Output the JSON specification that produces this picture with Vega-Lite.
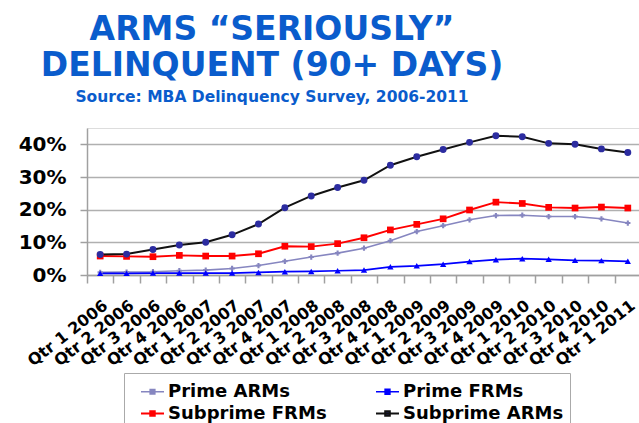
{
  "$schema": "https://vega.github.io/schema/vega-lite/v6.json",
  "width": 554,
  "height": 147,
  "autosize": {"type": "none"},
  "padding": {"left": 87, "top": 128, "right": 0, "bottom": 148},
  "background": "white",
  "title": {
    "text": ["ARMS “SERIOUSLY”", "DELINQUENT (90+ DAYS)"],
    "subtitle": "Source:  MBA Delinquency Survey, 2006-2011",
    "anchor": "middle",
    "frame": "group",
    "dx": -92,
    "font": "DejaVu Sans",
    "fontSize": 33,
    "fontWeight": "bold",
    "color": "#0a5ccc",
    "lineHeight": 36,
    "subtitleFont": "DejaVu Sans",
    "subtitleFontSize": 15.5,
    "subtitleFontWeight": "bold",
    "subtitleColor": "#0a5ccc",
    "subtitlePadding": 7,
    "offset": 23
  },
  "datasets": {
    "d": [
      {"q": "Qtr 1 2006", "s": "Prime ARMs", "v": 0.008}, {"q": "Qtr 2 2006", "s": "Prime ARMs", "v": 0.009}, {"q": "Qtr 3 2006", "s": "Prime ARMs", "v": 0.010}, {"q": "Qtr 4 2006", "s": "Prime ARMs", "v": 0.013}, {"q": "Qtr 1 2007", "s": "Prime ARMs", "v": 0.015}, {"q": "Qtr 2 2007", "s": "Prime ARMs", "v": 0.020}, {"q": "Qtr 3 2007", "s": "Prime ARMs", "v": 0.029}, {"q": "Qtr 4 2007", "s": "Prime ARMs", "v": 0.042}, {"q": "Qtr 1 2008", "s": "Prime ARMs", "v": 0.055}, {"q": "Qtr 2 2008", "s": "Prime ARMs", "v": 0.067}, {"q": "Qtr 3 2008", "s": "Prime ARMs", "v": 0.082}, {"q": "Qtr 4 2008", "s": "Prime ARMs", "v": 0.105}, {"q": "Qtr 1 2009", "s": "Prime ARMs", "v": 0.133}, {"q": "Qtr 2 2009", "s": "Prime ARMs", "v": 0.151}, {"q": "Qtr 3 2009", "s": "Prime ARMs", "v": 0.169}, {"q": "Qtr 4 2009", "s": "Prime ARMs", "v": 0.182}, {"q": "Qtr 1 2010", "s": "Prime ARMs", "v": 0.183}, {"q": "Qtr 2 2010", "s": "Prime ARMs", "v": 0.179}, {"q": "Qtr 3 2010", "s": "Prime ARMs", "v": 0.179}, {"q": "Qtr 4 2010", "s": "Prime ARMs", "v": 0.172}, {"q": "Qtr 1 2011", "s": "Prime ARMs", "v": 0.159},
      {"q": "Qtr 1 2006", "s": "Prime FRMs", "v": 0.005}, {"q": "Qtr 2 2006", "s": "Prime FRMs", "v": 0.005}, {"q": "Qtr 3 2006", "s": "Prime FRMs", "v": 0.006}, {"q": "Qtr 4 2006", "s": "Prime FRMs", "v": 0.006}, {"q": "Qtr 1 2007", "s": "Prime FRMs", "v": 0.006}, {"q": "Qtr 2 2007", "s": "Prime FRMs", "v": 0.006}, {"q": "Qtr 3 2007", "s": "Prime FRMs", "v": 0.008}, {"q": "Qtr 4 2007", "s": "Prime FRMs", "v": 0.010}, {"q": "Qtr 1 2008", "s": "Prime FRMs", "v": 0.011}, {"q": "Qtr 2 2008", "s": "Prime FRMs", "v": 0.013}, {"q": "Qtr 3 2008", "s": "Prime FRMs", "v": 0.015}, {"q": "Qtr 4 2008", "s": "Prime FRMs", "v": 0.025}, {"q": "Qtr 1 2009", "s": "Prime FRMs", "v": 0.028}, {"q": "Qtr 2 2009", "s": "Prime FRMs", "v": 0.033}, {"q": "Qtr 3 2009", "s": "Prime FRMs", "v": 0.041}, {"q": "Qtr 4 2009", "s": "Prime FRMs", "v": 0.047}, {"q": "Qtr 1 2010", "s": "Prime FRMs", "v": 0.050}, {"q": "Qtr 2 2010", "s": "Prime FRMs", "v": 0.048}, {"q": "Qtr 3 2010", "s": "Prime FRMs", "v": 0.045}, {"q": "Qtr 4 2010", "s": "Prime FRMs", "v": 0.044}, {"q": "Qtr 1 2011", "s": "Prime FRMs", "v": 0.042},
      {"q": "Qtr 1 2006", "s": "Subprime FRMs", "v": 0.058}, {"q": "Qtr 2 2006", "s": "Subprime FRMs", "v": 0.057}, {"q": "Qtr 3 2006", "s": "Subprime FRMs", "v": 0.056}, {"q": "Qtr 4 2006", "s": "Subprime FRMs", "v": 0.060}, {"q": "Qtr 1 2007", "s": "Subprime FRMs", "v": 0.058}, {"q": "Qtr 2 2007", "s": "Subprime FRMs", "v": 0.058}, {"q": "Qtr 3 2007", "s": "Subprime FRMs", "v": 0.065}, {"q": "Qtr 4 2007", "s": "Subprime FRMs", "v": 0.088}, {"q": "Qtr 1 2008", "s": "Subprime FRMs", "v": 0.087}, {"q": "Qtr 2 2008", "s": "Subprime FRMs", "v": 0.096}, {"q": "Qtr 3 2008", "s": "Subprime FRMs", "v": 0.114}, {"q": "Qtr 4 2008", "s": "Subprime FRMs", "v": 0.138}, {"q": "Qtr 1 2009", "s": "Subprime FRMs", "v": 0.155}, {"q": "Qtr 2 2009", "s": "Subprime FRMs", "v": 0.172}, {"q": "Qtr 3 2009", "s": "Subprime FRMs", "v": 0.199}, {"q": "Qtr 4 2009", "s": "Subprime FRMs", "v": 0.223}, {"q": "Qtr 1 2010", "s": "Subprime FRMs", "v": 0.219}, {"q": "Qtr 2 2010", "s": "Subprime FRMs", "v": 0.207}, {"q": "Qtr 3 2010", "s": "Subprime FRMs", "v": 0.205}, {"q": "Qtr 4 2010", "s": "Subprime FRMs", "v": 0.208}, {"q": "Qtr 1 2011", "s": "Subprime FRMs", "v": 0.205},
      {"q": "Qtr 1 2006", "s": "Subprime ARMs", "v": 0.063}, {"q": "Qtr 2 2006", "s": "Subprime ARMs", "v": 0.064}, {"q": "Qtr 3 2006", "s": "Subprime ARMs", "v": 0.078}, {"q": "Qtr 4 2006", "s": "Subprime ARMs", "v": 0.092}, {"q": "Qtr 1 2007", "s": "Subprime ARMs", "v": 0.100}, {"q": "Qtr 2 2007", "s": "Subprime ARMs", "v": 0.123}, {"q": "Qtr 3 2007", "s": "Subprime ARMs", "v": 0.156}, {"q": "Qtr 4 2007", "s": "Subprime ARMs", "v": 0.206}, {"q": "Qtr 1 2008", "s": "Subprime ARMs", "v": 0.242}, {"q": "Qtr 2 2008", "s": "Subprime ARMs", "v": 0.268}, {"q": "Qtr 3 2008", "s": "Subprime ARMs", "v": 0.290}, {"q": "Qtr 4 2008", "s": "Subprime ARMs", "v": 0.336}, {"q": "Qtr 1 2009", "s": "Subprime ARMs", "v": 0.362}, {"q": "Qtr 2 2009", "s": "Subprime ARMs", "v": 0.384}, {"q": "Qtr 3 2009", "s": "Subprime ARMs", "v": 0.406}, {"q": "Qtr 4 2009", "s": "Subprime ARMs", "v": 0.426}, {"q": "Qtr 1 2010", "s": "Subprime ARMs", "v": 0.423}, {"q": "Qtr 2 2010", "s": "Subprime ARMs", "v": 0.403}, {"q": "Qtr 3 2010", "s": "Subprime ARMs", "v": 0.400}, {"q": "Qtr 4 2010", "s": "Subprime ARMs", "v": 0.386}, {"q": "Qtr 1 2011", "s": "Subprime ARMs", "v": 0.375}
    ]
  },
  "data": {"name": "d"},
  "encoding": {
    "x": {
      "field": "q",
      "type": "ordinal",
      "sort": null,
      "scale": {"type": "band", "paddingInner": 0, "paddingOuter": 0},
      "axis": {
        "title": null,
        "grid": false,
        "labelAngle": -38,
        "labelAlign": "right",
        "labelBaseline": "top",
        "labelFont": "DejaVu Sans",
        "labelFontSize": 16,
        "labelFontWeight": "bold",
        "labelColor": "black",
        "labelPadding": 14,
        "tickBand": "extent",
        "tickSize": 8,
        "tickColor": "#a0a0a0",
        "tickWidth": 1.5,
        "domainColor": "#a0a0a0",
        "domainWidth": 1.5
      }
    },
    "y": {
      "field": "v",
      "type": "quantitative",
      "scale": {"domain": [0, 0.45], "nice": false},
      "axis": {
        "title": null,
        "values": [0, 0.1, 0.2, 0.3, 0.4],
        "format": ".0%",
        "labelFont": "DejaVu Sans",
        "labelFontSize": 20,
        "labelFontWeight": "bold",
        "labelColor": "black",
        "labelPadding": 14,
        "tickSize": 7,
        "tickColor": "#a0a0a0",
        "tickWidth": 1.5,
        "gridColor": "#b0b0b0",
        "gridWidth": 1.5,
        "domainColor": "#a0a0a0",
        "domainWidth": 1.5
      }
    }
  },
  "layer": [
    {
      "mark": {"type": "line"},
      "encoding": {
        "color": {
          "field": "s",
          "type": "nominal",
          "scale": {
            "domain": ["Prime ARMs", "Prime FRMs", "Subprime FRMs", "Subprime ARMs"],
            "range": ["#8686c0", "#0000ff", "#ff0000", "#111111"]
          },
          "legend": {
            "title": null,
            "orient": "none",
            "legendX": 37,
            "legendY": 245,
            "columns": 2,
            "direction": "horizontal",
            "padding": 6,
            "symbolOffset": 10,
            "columnPadding": 38,
            "rowPadding": 0,
            "labelLimit": 300,
            "labelFont": "DejaVu Sans",
            "labelFontSize": 18,
            "labelFontWeight": "bold",
            "labelColor": "black",
            "labelOffset": 3,
            "symbolType": "M-1,0H1M-0.2,-0.2H0.2V0.2H-0.2Z",
            "symbolSize": 529,
            "symbolStrokeWidth": 2,
            "strokeColor": "#aaaaaa",
            "fillColor": "white",
            "encode": {
              "symbols": {
                "update": {
                  "fill": {"signal": "datum.value === 'Subprime ARMs' ? '#2c2ca0' : scale('color', datum.value)"},
                  "fillOpacity": {"value": 1}
                }
              }
            }
          }
        },
        "strokeWidth": {
          "field": "s",
          "type": "nominal",
          "scale": {
            "domain": ["Prime ARMs", "Prime FRMs", "Subprime FRMs", "Subprime ARMs"],
            "range": [1.6, 2, 2, 2]
          },
          "legend": null
        }
      }
    },
    {
      "transform": [{"filter": "datum.s === 'Prime ARMs'"}],
      "mark": {"type": "point", "shape": "cross", "filled": true, "size": 28, "color": "#8686c0", "opacity": 1}
    },
    {
      "transform": [{"filter": "datum.s === 'Prime FRMs'"}],
      "mark": {"type": "point", "shape": "triangle-up", "filled": true, "size": 40, "color": "#0000ff", "opacity": 1}
    },
    {
      "transform": [{"filter": "datum.s === 'Subprime FRMs'"}],
      "mark": {"type": "point", "shape": "square", "filled": true, "size": 45, "color": "#ff0000", "opacity": 1}
    },
    {
      "transform": [{"filter": "datum.s === 'Subprime ARMs'"}],
      "mark": {"type": "point", "shape": "circle", "filled": true, "size": 48, "color": "#2c2ca0", "opacity": 1}
    }
  ]
}
